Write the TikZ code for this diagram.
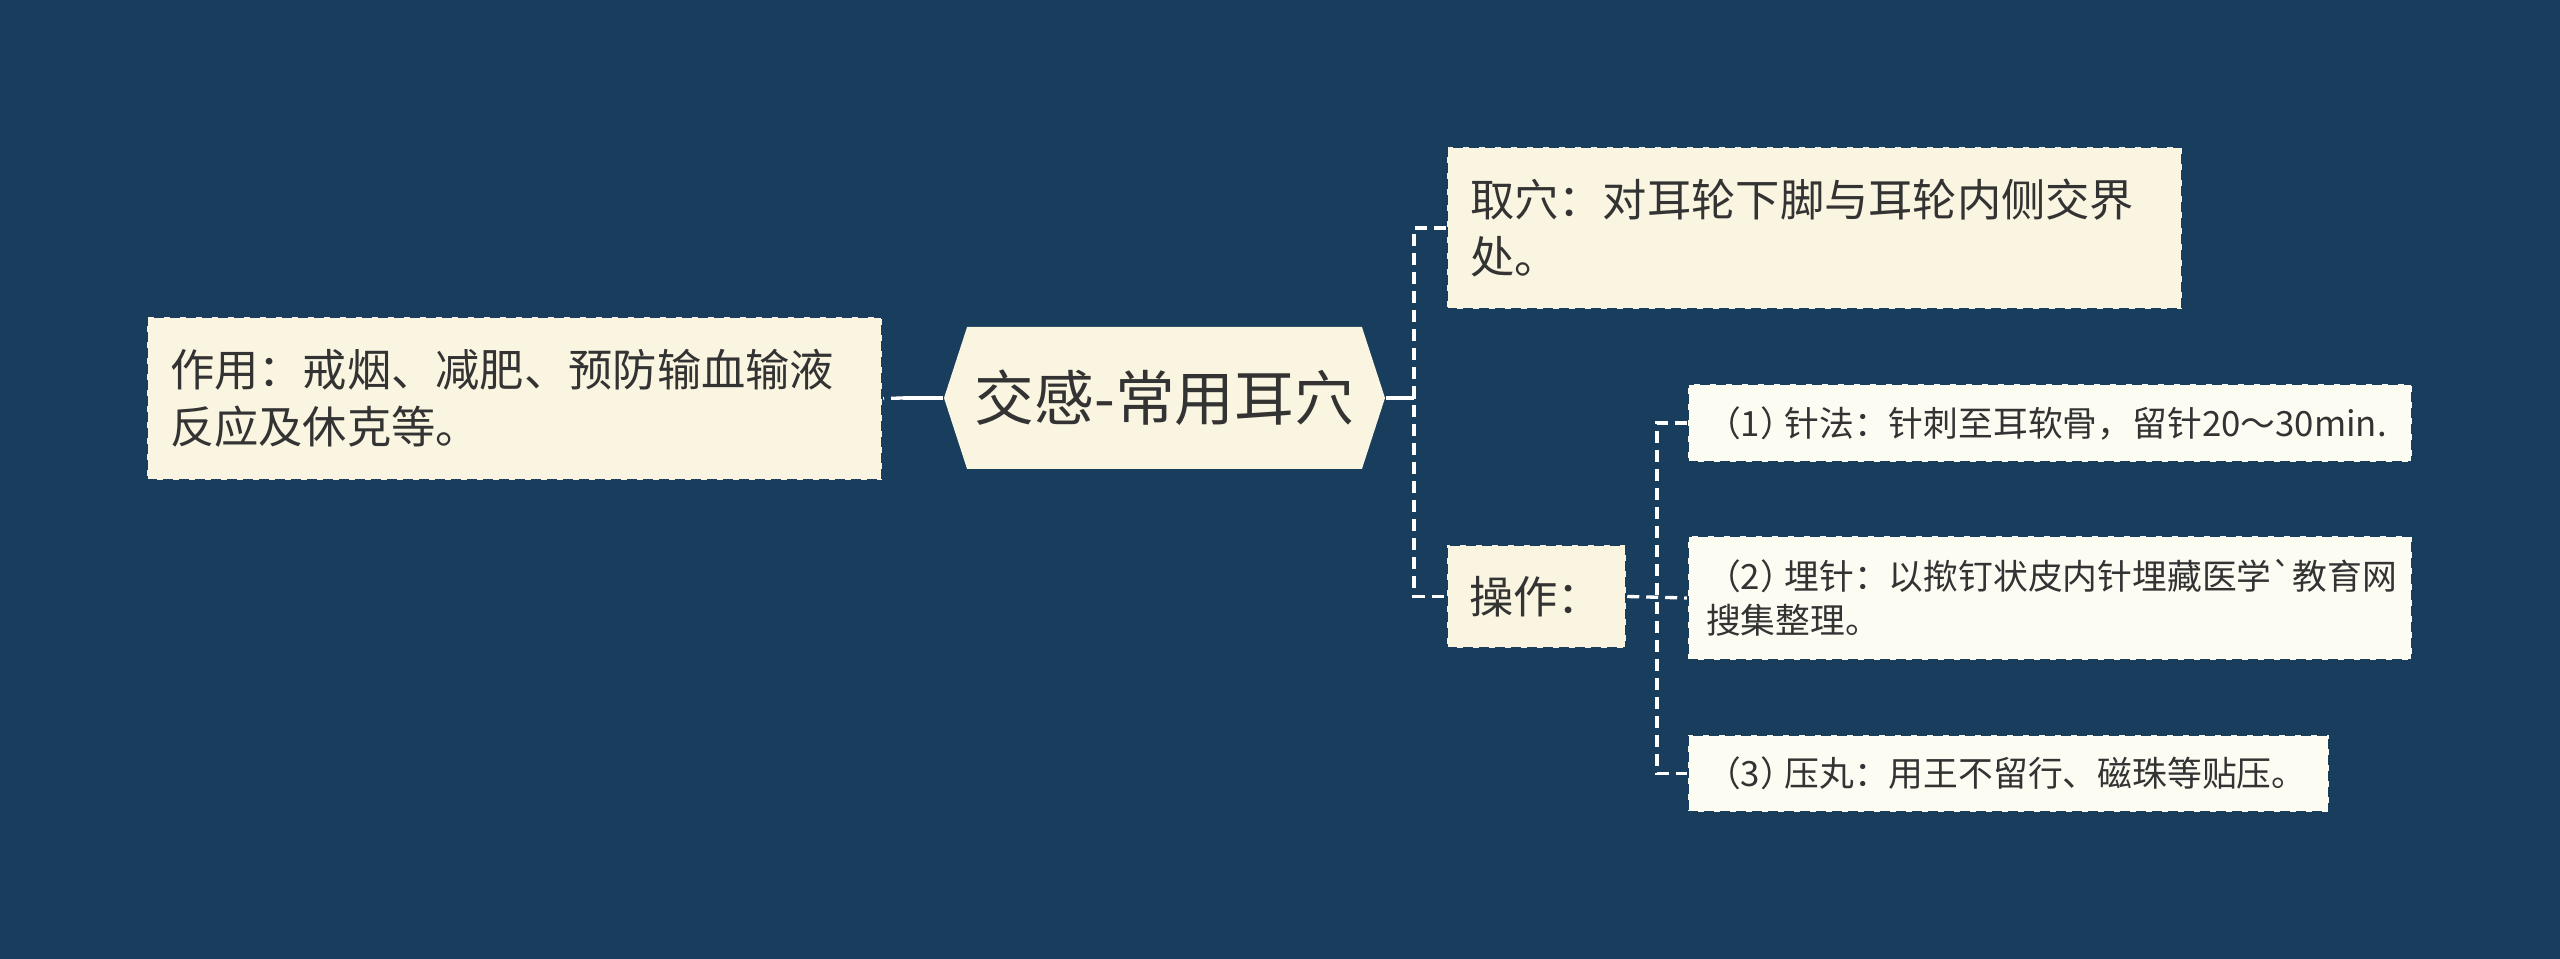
\documentclass[tikz,border=0pt]{standalone}
\usepackage{fontspec}
\newfontfamily\cjk{Noto Sans CJK SC}
\usetikzlibrary{shapes.symbols}

\definecolor{bgblue}{HTML}{183D5D}
\definecolor{cream}{HTML}{FAF5E1}
\definecolor{paper}{HTML}{FDFCF3}
\definecolor{ink}{HTML}{333333}

% half-width closing bracket
\newcommand{\rpar}{{\addfontfeatures{RawFeature=+halt}）}\kern0.2em}

\tikzset{
  box/.style={fill=cream, draw=bgblue, line width=0.7pt, dash pattern=on 0.1cm off 0.06cm,
    text=ink, align=left, inner ysep=0pt, font=\cjk\fontsize{12.6pt}{16.2pt}\selectfont},
  subbox/.style={box, fill=paper, inner xsep=0.18cm, font=\cjk\fontsize{9.9pt}{12.6pt}\selectfont},
  solidlink/.style={draw=white, line width=0.95pt},
  dlink/.style={solidlink, dash pattern=on 0.12cm off 0.07cm}
}

\begin{document}
\begin{tikzpicture}

% Background
\fill[bgblue] (0,0) rectangle (25.6,-9.59);
\useasboundingbox (0,0) rectangle (25.6,-9.59);

% Central topic
\node[signal, signal to=west and east, signal pointer angle=144, fill=cream, text=ink,
      minimum width=4.41cm, minimum height=1.42cm, inner sep=0pt,
      font=\cjk\fontsize{17pt}{20pt}\selectfont] (title) at (11.645,-3.98) {交感-常用耳穴};

% Left branch
\node[box, text width=6.89cm, inner xsep=0.23cm, minimum height=1.63cm] (use) at (5.145,-3.985)
  {作用：戒烟、减肥、预防输血输液\\反应及休克等。};

% Right branches
\node[box, text width=6.89cm, inner xsep=0.23cm, minimum height=1.62cm] (quxue) at (18.145,-2.28)
  {取穴：对耳轮下脚与耳轮内侧交界\\处。};
\node[box, text width=1.35cm, inner xsep=0.22cm, minimum height=1.03cm] (caozuo) at (15.365,-5.965)
  {操作：};

% Operation steps
\node[subbox, text width=6.88cm, minimum height=0.78cm] (zhenfa) at (20.5,-4.23)
  {（1\rpar 针法：针刺至耳软骨，留针20～30min.};
\node[subbox, text width=6.88cm, minimum height=1.24cm] (maizhen) at (20.5,-5.98)
  {（2\rpar 埋针：以揿钉状皮内针埋藏医学`教育网\\搜集整理。};
\node[subbox, text width=6.05cm, minimum height=0.77cm] (yawan) at (20.085,-7.735)
  {（3\rpar 压丸：用王不留行、磁珠等贴压。};

% Connectors
\coordinate (hubL) at (9.03,-3.98);
\coordinate (hubA) at (14.14,-3.98);
\coordinate (hubB) at (16.57,-5.97);

\draw[solidlink] (title.west) -- (hubL);
\draw[dlink] (hubL) -- (use.east);

\draw[solidlink] (title.east) -- (hubA);
\draw[dlink] (quxue.west) -| (hubA) |- (caozuo.west);

\draw[dlink] (caozuo.east) -- (maizhen.west);
\draw[dlink] (zhenfa.west) -| (hubB) |- (yawan.west);

\end{tikzpicture}
\end{document}
